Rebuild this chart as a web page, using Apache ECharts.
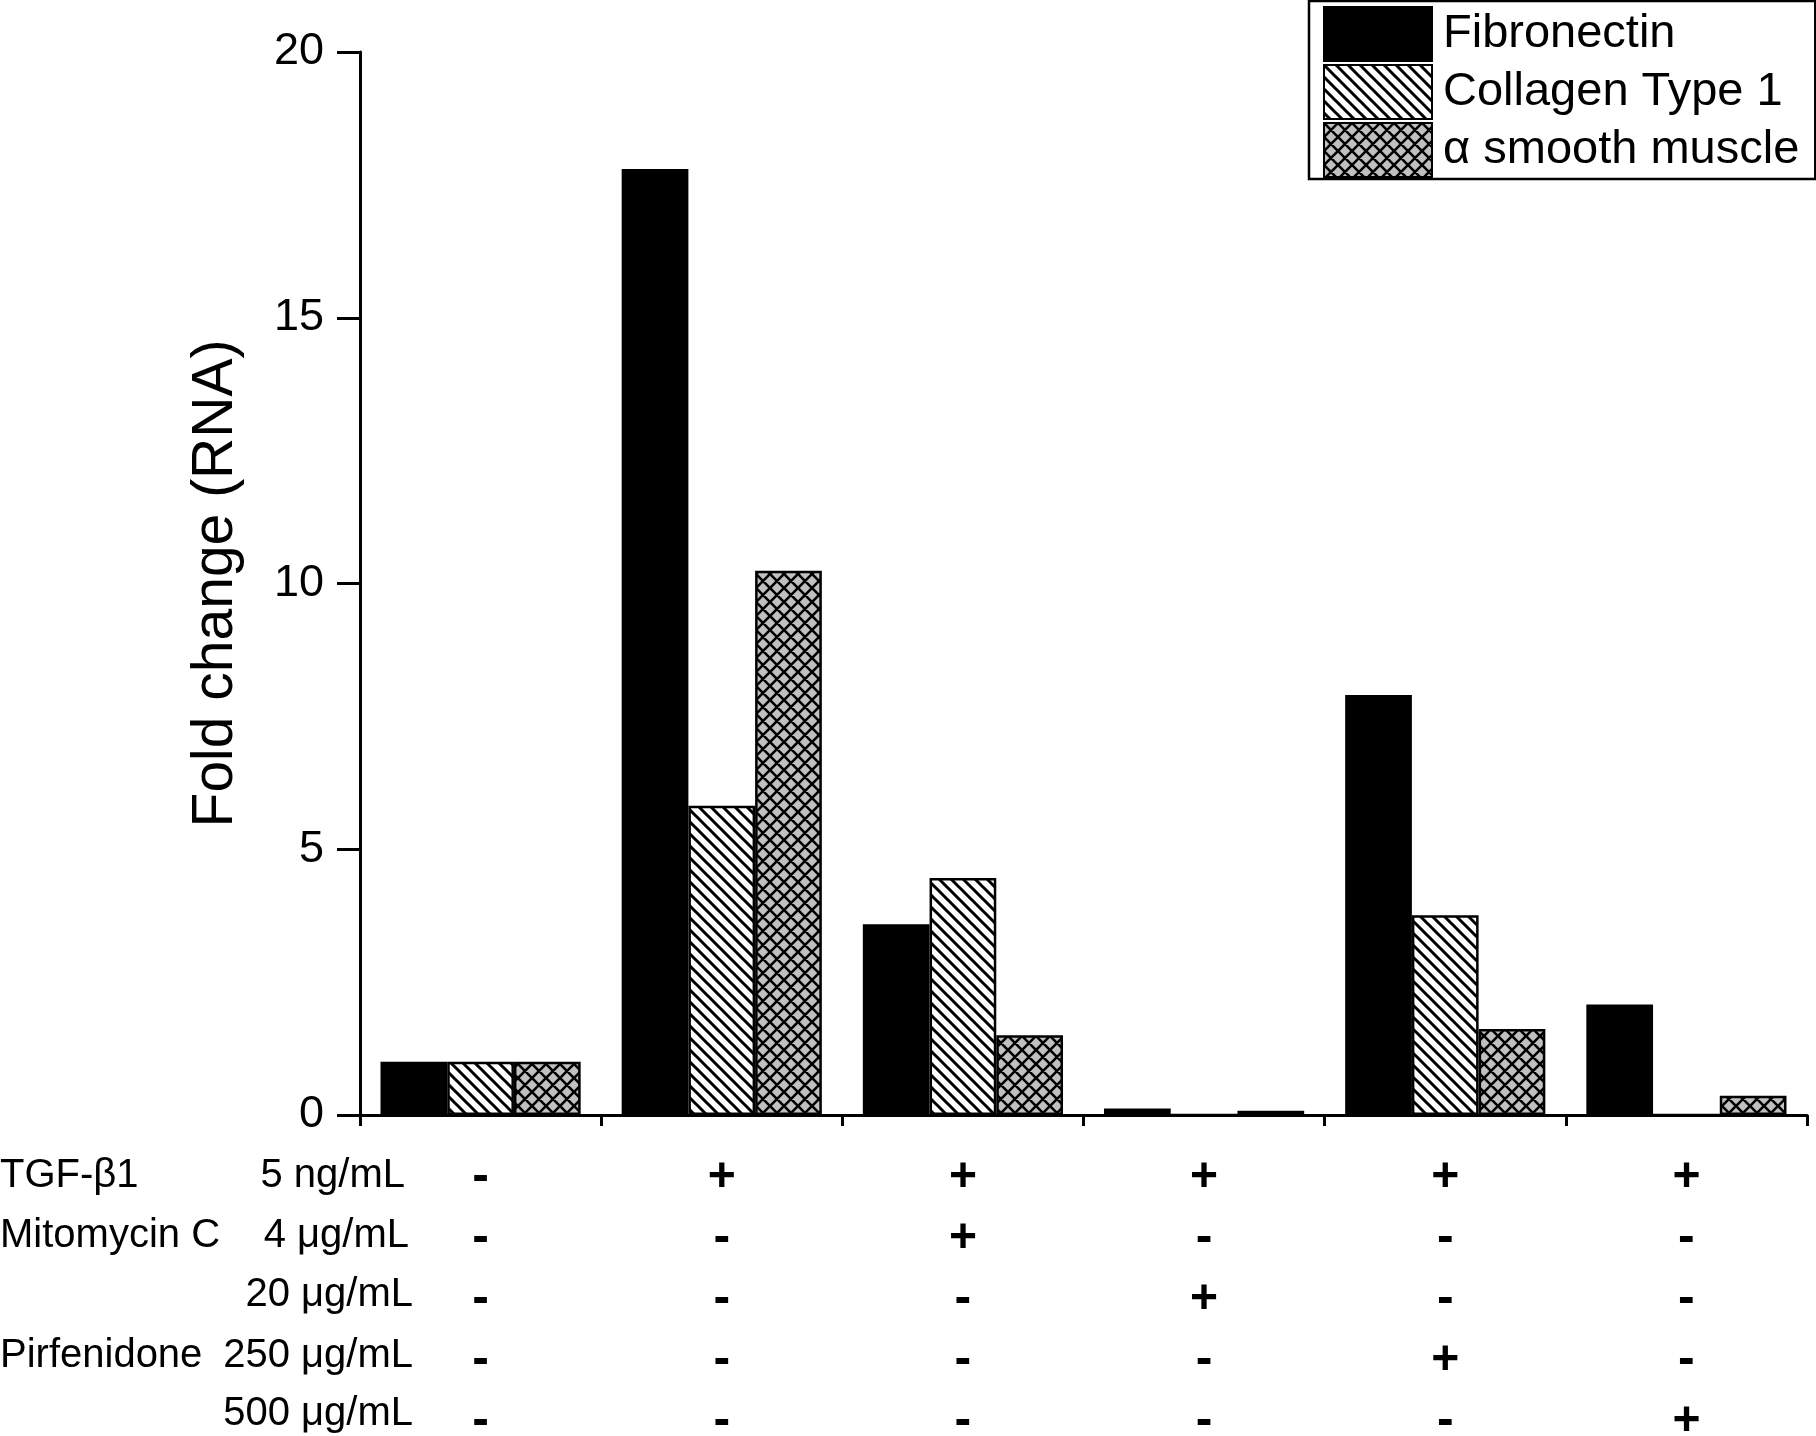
<!DOCTYPE html>
<html>
<head>
<meta charset="utf-8">
<script src="https://cdn.jsdelivr.net/npm/echarts@6/dist/echarts.min.js"></script>
<style>
  html, body { margin: 0; padding: 0; background: #fff; }
  #chart { width: 1816px; height: 1436px; }
</style>
</head>
<body>
<div id="chart"></div>
<script>
// ---- data ----
const categories = ['Control', 'TGF-β1', 'TGF-β1 + MMC 4', 'TGF-β1 + MMC 20', 'TGF-β1 + PFD 250', 'TGF-β1 + PFD 500'];
const seriesNames = ['Fibronectin', 'Collagen Type 1', 'α smooth muscle'];
const fibronectin = [1.0, 17.8, 3.59, 0.12, 7.9, 2.08];
const collagen = [1.0, 5.82, 4.46, 0.0, 3.76, 0.0];
const alphaSMA = [1.0, 10.24, 1.5, 0.08, 1.62, 0.36];
const yTicks = { min: 0, max: 20, interval: 5 };
// treatment table rows (label, dose) and +/- per category
const rowNames = ['TGF-β1', 'Mitomycin C', '', 'Pirfenidone', ''];
const rowDoses = ['5 ng/mL', '4 μg/mL', '20 μg/mL', '250 μg/mL', '500 μg/mL'];
const signs = [
  ['-', '-', '-', '-', '-'],
  ['+', '-', '-', '-', '-'],
  ['+', '+', '-', '-', '-'],
  ['+', '-', '+', '-', '-'],
  ['+', '-', '-', '+', '-'],
  ['+', '-', '-', '-', '+']
];

// ---- patterns ----
function stripeTile() {
  const P = 12, c = document.createElement('canvas');
  c.width = P; c.height = P;
  const g = c.getContext('2d');
  g.fillStyle = '#fff'; g.fillRect(0, 0, P, P);
  g.strokeStyle = '#000'; g.lineWidth = 3;
  g.beginPath();
  for (const k of [-P, 0, P]) { g.moveTo(-2, -2 + k); g.lineTo(P + 2, P + 2 + k); }
  g.stroke();
  return c;
}
function crossTile() {
  const P = 14, c = document.createElement('canvas');
  c.width = P; c.height = P;
  const g = c.getContext('2d');
  g.fillStyle = '#c0c0c0'; g.fillRect(0, 0, P, P);
  g.strokeStyle = '#000'; g.lineWidth = 2.6;
  g.beginPath();
  for (const k of [-P, 0, P]) {
    g.moveTo(-2, -2 + k); g.lineTo(P + 2, P + 2 + k);
    g.moveTo(-2, P + 2 + k); g.lineTo(P + 2, -2 + k);
  }
  g.stroke();
  return c;
}
const stripePattern = { image: stripeTile(), repeat: 'repeat' };
const crossPattern = { image: crossTile(), repeat: 'repeat' };

const FONT = '"Liberation Sans", Arial, Helvetica, sans-serif';
const chart = echarts.init(document.getElementById('chart'), null, { renderer: 'canvas' });

// row label graphics
const rowY = [1180, 1240, 1299, 1360, 1418];
const doseRight = [405, 409, 413, 413, 413];
const graphics = [];
rowNames.forEach((t, i) => {
  if (t) graphics.push({ type: 'text', left: 0, top: rowY[i] - 24,
    style: { text: t, font: '40px ' + FONT, fill: '#000' } });
});
rowDoses.forEach((t, i) => {
  graphics.push({ type: 'text', right: 1816 - doseRight[i], top: rowY[i] - 24,
    style: { text: t, font: '40px ' + FONT, fill: '#000', textAlign: 'right' } });
});

const barBase = { type: 'bar', barGap: '0%', barCategoryGap: '17%' };

chart.setOption({
  animation: false,
  backgroundColor: '#fff',
  graphic: graphics,
  grid: { left: 360, right: 9, top: 52, bottom: 321, containLabel: false, outerBoundsMode: 'none' },
  legend: {
    orient: 'vertical', left: 1309, top: 1,
    padding: [5, 16, 1, 14], itemGap: 2,
    itemWidth: 108, itemHeight: 54, icon: 'rect',
    borderColor: '#000', borderWidth: 2.5,
    textStyle: { fontFamily: FONT, fontSize: 47, color: '#000', padding: [0, 0, 0, 6] },
    data: seriesNames
  },
  xAxis: {
    type: 'category', data: categories,
    axisLine: { lineStyle: { color: '#000', width: 3 } },
    axisTick: { show: true, length: 11, lineStyle: { color: '#000', width: 3 }, alignWithLabel: false },
    axisLabel: {
      margin: 32, interval: 0, hideOverlap: false,
      formatter: (v, idx) => signs[idx].map(s => s === '+' ? '{p|+}' : '{m|-}').join('\n'),
      rich: {
        p: { fontFamily: FONT, fontSize: 48, fontWeight: 'bold', color: '#000', lineHeight: 61 },
        m: { fontFamily: FONT, fontSize: 50, fontWeight: 'bold', color: '#000', lineHeight: 61 }
      }
    }
  },
  yAxis: {
    type: 'value', min: yTicks.min, max: yTicks.max, interval: yTicks.interval,
    name: 'Fold change (RNA)', nameLocation: 'middle', nameGap: 115, nameRotate: 90,
    nameTextStyle: { fontFamily: FONT, fontSize: 57, color: '#000' },
    axisLine: { show: true, lineStyle: { color: '#000', width: 3 } },
    axisTick: { show: true, length: 23, lineStyle: { color: '#000', width: 3 } },
    axisLabel: { margin: 36, fontFamily: FONT, fontSize: 45, color: '#000' },
    splitLine: { show: false }
  },
  series: [
    Object.assign({}, barBase, { name: seriesNames[0], data: fibronectin,
      itemStyle: { color: '#000', borderColor: '#000', borderWidth: 2.5 } }),
    Object.assign({}, barBase, { name: seriesNames[1], data: collagen,
      itemStyle: { color: stripePattern, borderColor: '#000', borderWidth: 2.5 } }),
    Object.assign({}, barBase, { name: seriesNames[2], data: alphaSMA,
      itemStyle: { color: crossPattern, borderColor: '#000', borderWidth: 2.5 } })
  ]
});
</script>
</body>
</html>
